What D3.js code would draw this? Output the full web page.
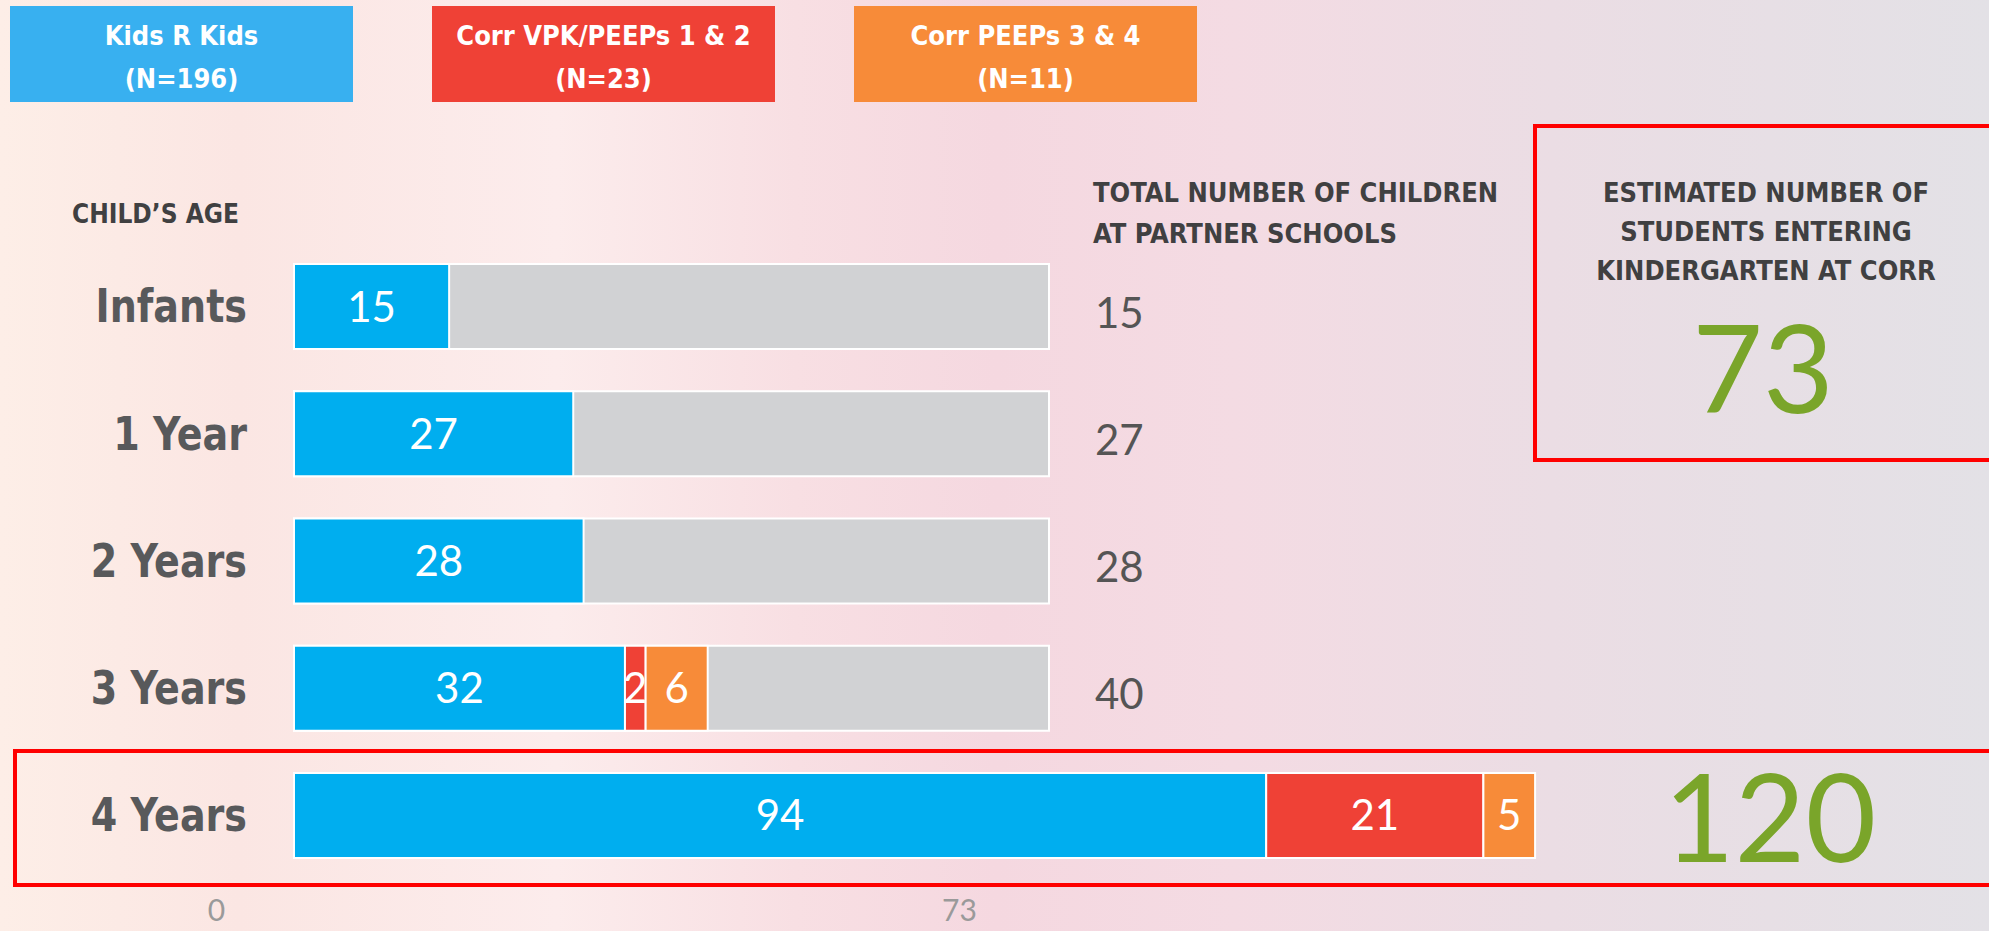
<!DOCTYPE html>
<html>
<head>
<meta charset="utf-8">
<script src="https://cdn.jsdelivr.net/npm/d3@7"></script>
<style>
  html, body { margin: 0; padding: 0; overflow: hidden; }
  body { width: 1989px; height: 931px; }
  .cond { font-family: 'Liberation Sans Narrow', 'DejaVu Sans Condensed', 'Roboto Condensed', 'Arial Narrow', sans-serif; font-stretch: condensed; font-weight: bold; }
  .geo { font-family: 'Lato', 'Noto Sans', sans-serif; }
</style>
</head>
<body>
<script>
// ---- data ----
const ages = ["Infants", "1 Year", "2 Years", "3 Years", "4 Years"];
const kidsRKids = [15, 27, 28, 32, 94];
const corrVPK = [0, 0, 0, 2, 21];
const corrPEEPs34 = [0, 0, 0, 6, 5];
const rowTotals = [15, 27, 28, 40, 120];
const capacity = [73, 73, 73, 73, 0];
const seriesNames = ["Kids R Kids", "Corr VPK/PEEPs 1 & 2", "Corr PEEPs 3 & 4"];
const seriesN = [196, 23, 11];
const axisTicks = [0, 73];
const estimatedKindergarten = 73;
const highlightedAge = "4 Years";

const W = 1989, H = 931;
const colors = ["#00aeef", "#ef4136", "#f78b39"];
const legendColors = ["#38b0f0", "#ef4136", "#f78b39"];

const svg = d3.select("body").append("svg").attr("width", W).attr("height", H);

// background
const defs = svg.append("defs");
const bg = defs.append("linearGradient").attr("id", "bg").attr("x1", 0).attr("x2", 1).attr("y1", 0).attr("y2", 0);
[["0%", "#fdeee7"], ["12%", "#fbe6e3"], ["28%", "#fcecec"], ["40%", "#f8dfe3"], ["50%", "#f5d8e0"], ["62%", "#f4dbe3"], ["78%", "#ebdde4"], ["100%", "#e3e1e6"]]
  .forEach(([o, c]) => bg.append("stop").attr("offset", o).attr("stop-color", c));
svg.append("rect").attr("width", W).attr("height", H).attr("fill", "url(#bg)");

// scales
const x = d3.scaleLinear().domain([0, 73]).range([294, 1049]);
const y = d3.scaleBand().domain(ages).range([264, 858]).paddingInner(0.332).paddingOuter(0);

function squeeze(sel, ax, sx) {
  sel.attr("transform", `translate(${ax},0) scale(${sx},1) translate(${-ax},0)`);
}

// stacked data
const rows = ages.map((a, i) => ({ age: a, vals: [kidsRKids[i], corrVPK[i], corrPEEPs34[i]], cap: capacity[i], total: rowTotals[i] }));

const g = svg.append("g");

// capacity (grey) bars
g.selectAll("rect.cap").data(rows.filter(r => r.cap > 0)).join("rect")
  .attr("class", "cap")
  .attr("x", x(0)).attr("y", d => y(d.age))
  .attr("width", d => x(d.cap) - x(0)).attr("height", y.bandwidth())
  .attr("fill", "#d1d2d4").attr("stroke", "#ffffff").attr("stroke-width", 2);

// segments
rows.forEach(r => {
  let acc = 0;
  r.vals.forEach((v, k) => {
    if (v > 0) {
      const x0 = x(acc), x1 = x(acc + v);
      g.append("rect").attr("x", x0).attr("y", y(r.age)).attr("width", x1 - x0).attr("height", y.bandwidth())
        .attr("fill", colors[k]).attr("stroke", "#ffffff").attr("stroke-width", 2);
      g.append("text").attr("class", "geo")
        .attr("x", (x0 + x1) / 2).attr("y", y(r.age) + y.bandwidth() / 2 + 15)
        .attr("text-anchor", "middle").attr("fill", "#ffffff").attr("font-size", 42)
        .text(v);
    }
    acc += v;
  });
});

// row labels
g.selectAll("text.age").data(ages).join("text")
  .attr("class", "age cond")
  .attr("x", 247).attr("y", d => y(d) + y.bandwidth() / 2 + 16)
  .attr("text-anchor", "end").attr("fill", "#58595b").attr("font-size", 47)
  .text(d => d)
  .call(squeeze, 247, 0.9);

// row totals
g.selectAll("text.tot").data(rows.filter(r => r.age !== highlightedAge)).join("text")
  .attr("class", "tot geo")
  .attr("x", 1095).attr("y", d => y(d.age) + y.bandwidth() / 2 + 21)
  .attr("fill", "#555555").attr("font-size", 42)
  .text(d => d.total);

// headers
svg.append("text").attr("class", "cond").attr("x", 72).attr("y", 223)
  .attr("fill", "#404041").attr("font-size", 26).text("CHILD\u2019S AGE");
const th = svg.append("text").attr("class", "cond").attr("fill", "#404041").attr("font-size", 27);
th.append("tspan").attr("x", 1093).attr("y", 202).text("TOTAL NUMBER OF CHILDREN");
th.append("tspan").attr("x", 1093).attr("y", 243).text("AT PARTNER SCHOOLS");

// legend
const lg = svg.append("g");
seriesNames.forEach((n, i) => {
  const lx = 10 + i * 422;
  lg.append("rect").attr("x", lx).attr("y", 6).attr("width", 343).attr("height", 96).attr("fill", legendColors[i]);
  const t = lg.append("text").attr("class", "cond").attr("text-anchor", "middle").attr("fill", "#fff").attr("font-size", 27);
  t.append("tspan").attr("x", lx + 171.5).attr("y", 45).text(n);
  t.append("tspan").attr("x", lx + 171.5).attr("y", 88).text(`(N=${seriesN[i]})`);
});

// highlight box for 4 Years
const hy = y(highlightedAge);
svg.append("rect").attr("x", 15).attr("y", hy - 22).attr("width", 2100).attr("height", y.bandwidth() + 49)
  .attr("fill", "none").attr("stroke", "#ff0000").attr("stroke-width", 4);
svg.append("text").attr("class", "geo").attr("x", 1770).attr("y", hy + y.bandwidth() / 2 + 47)
  .attr("text-anchor", "middle").attr("fill", "#7aa52a").attr("font-size", 122).attr("font-weight", 400)
  .text(rowTotals[ages.indexOf(highlightedAge)]);

// estimate box
svg.append("rect").attr("x", 1535).attr("y", 126).attr("width", 600).attr("height", 334)
  .attr("fill", "none").attr("stroke", "#ff0000").attr("stroke-width", 4);
const et = svg.append("text").attr("class", "cond").attr("text-anchor", "middle").attr("fill", "#404041").attr("font-size", 27);
["ESTIMATED NUMBER OF", "STUDENTS ENTERING", "KINDERGARTEN AT CORR"].forEach((l, i) =>
  et.append("tspan").attr("x", 1766).attr("y", 202 + i * 39).text(l));
svg.append("text").attr("class", "geo").attr("x", 1763).attr("y", 413)
  .attr("text-anchor", "middle").attr("fill", "#7aa52a").attr("font-size", 122).attr("font-weight", 400)
  .text(estimatedKindergarten);

// axis (placed as in original, slightly offset from bars)
const xAxisScale = x.copy().range([216, 959]);
const axis = d3.axisBottom(xAxisScale).tickValues(axisTicks).tickSize(0).tickPadding(0);
const ax = svg.append("g").attr("transform", "translate(0, 900)").call(axis);
ax.select(".domain").remove();
ax.selectAll("text").attr("class", "geo").attr("font-size", 30).attr("fill", "#9a9a9a");
</script>
</body>
</html>
